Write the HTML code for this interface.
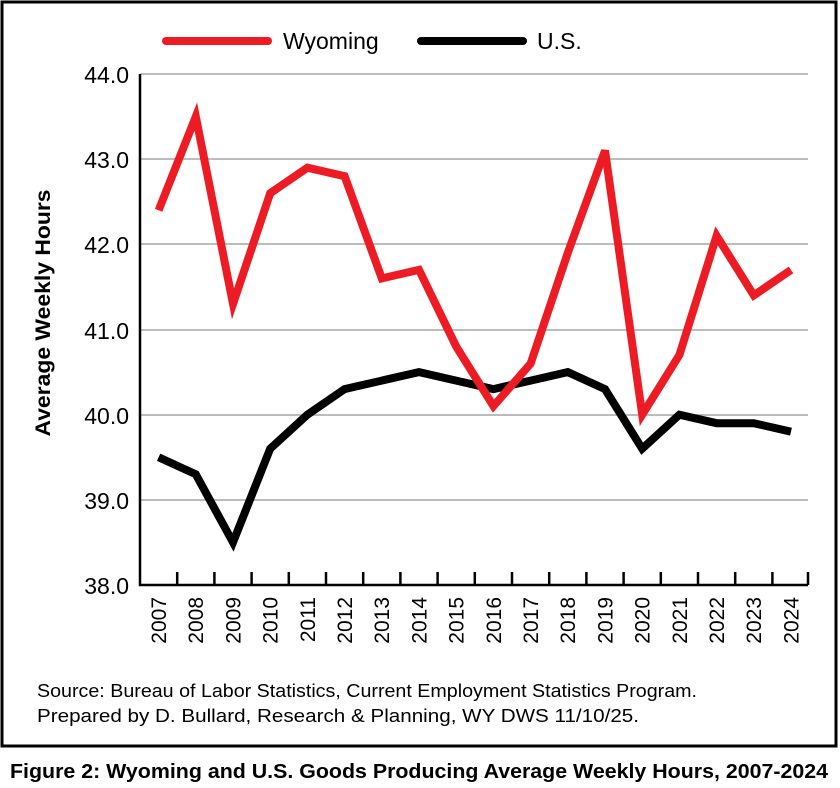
<!DOCTYPE html>
<html><head><meta charset="utf-8"><style>
html,body{margin:0;padding:0;background:#fff;}
svg{display:block;font-family:"Liberation Sans",sans-serif;}
</style></head><body>
<svg width="840" height="788" viewBox="0 0 840 788" xmlns="http://www.w3.org/2000/svg">
<rect x="0" y="0" width="840" height="788" fill="#fff"/>
<rect x="2" y="2" width="834" height="744" fill="none" stroke="#000" stroke-width="3"/>
<g stroke="#a6a6a6" stroke-width="1.5">
<line x1="140" y1="74" x2="808" y2="74"/>
<line x1="140" y1="159" x2="808" y2="159"/>
<line x1="140" y1="244" x2="808" y2="244"/>
<line x1="140" y1="330" x2="808" y2="330"/>
<line x1="140" y1="415" x2="808" y2="415"/>
<line x1="140" y1="500" x2="808" y2="500"/>
</g>
<line x1="140" y1="74" x2="140" y2="586" stroke="#000" stroke-width="2.5"/>
<line x1="139" y1="585" x2="808" y2="585" stroke="#000" stroke-width="2.5"/>
<g stroke="#000" stroke-width="2.5">
<line x1="177.2" y1="572" x2="177.2" y2="585"/><line x1="214.4" y1="572" x2="214.4" y2="585"/>
<line x1="251.6" y1="572" x2="251.6" y2="585"/><line x1="288.8" y1="572" x2="288.8" y2="585"/>
<line x1="326" y1="572" x2="326" y2="585"/><line x1="363.2" y1="572" x2="363.2" y2="585"/>
<line x1="400.4" y1="572" x2="400.4" y2="585"/><line x1="437.6" y1="572" x2="437.6" y2="585"/>
<line x1="474.8" y1="572" x2="474.8" y2="585"/><line x1="512" y1="572" x2="512" y2="585"/>
<line x1="549.2" y1="572" x2="549.2" y2="585"/><line x1="586.4" y1="572" x2="586.4" y2="585"/>
<line x1="623.6" y1="572" x2="623.6" y2="585"/><line x1="660.8" y1="572" x2="660.8" y2="585"/>
<line x1="698" y1="572" x2="698" y2="585"/><line x1="735.2" y1="572" x2="735.2" y2="585"/>
<line x1="772.4" y1="572" x2="772.4" y2="585"/><line x1="808" y1="572" x2="808" y2="585"/>
</g>
<g font-size="23" text-anchor="end" fill="#000">
<text x="129" y="83">44.0</text><text x="129" y="168">43.0</text><text x="129" y="253">42.0</text>
<text x="129" y="339">41.0</text><text x="129" y="424">40.0</text><text x="129" y="509">39.0</text>
<text x="129" y="594">38.0</text>
</g>
<g font-size="21" text-anchor="end" fill="#000">
<text transform="translate(166,597) rotate(-90)">2007</text>
<text transform="translate(203.2,597) rotate(-90)">2008</text>
<text transform="translate(240.4,597) rotate(-90)">2009</text>
<text transform="translate(277.6,597) rotate(-90)">2010</text>
<text transform="translate(314.8,597) rotate(-90)">2011</text>
<text transform="translate(352,597) rotate(-90)">2012</text>
<text transform="translate(389.2,597) rotate(-90)">2013</text>
<text transform="translate(426.4,597) rotate(-90)">2014</text>
<text transform="translate(463.6,597) rotate(-90)">2015</text>
<text transform="translate(500.8,597) rotate(-90)">2016</text>
<text transform="translate(538,597) rotate(-90)">2017</text>
<text transform="translate(575.2,597) rotate(-90)">2018</text>
<text transform="translate(612.4,597) rotate(-90)">2019</text>
<text transform="translate(649.6,597) rotate(-90)">2020</text>
<text transform="translate(686.8,597) rotate(-90)">2021</text>
<text transform="translate(724,597) rotate(-90)">2022</text>
<text transform="translate(761.2,597) rotate(-90)">2023</text>
<text transform="translate(798.4,597) rotate(-90)">2024</text>
</g>
<text transform="translate(50,313) rotate(-90)" font-size="21" font-weight="bold" text-anchor="middle" textLength="247" lengthAdjust="spacingAndGlyphs">Average Weekly Hours</text>
<polyline fill="none" stroke="#000" stroke-width="8" stroke-linejoin="miter" stroke-miterlimit="4" points="158.6,457.2 195.8,474.3 233,542.4 270.2,448.7 307.4,414.7 344.6,389.1 381.8,380.6 419,372.1 456.2,380.6 493.4,389.1 530.6,380.6 567.8,372.1 605,389.1 642.2,448.7 679.4,414.7 716.6,423.2 753.8,423.2 791,431.7"/>
<polyline fill="none" stroke="#ed1c24" stroke-width="8" stroke-linejoin="miter" stroke-miterlimit="4" points="158.6,210.3 195.8,116.6 233,303.9 270.2,193.2 307.4,167.7 344.6,176.2 381.8,278.4 419,269.9 456.2,346.5 493.4,406.1 530.6,363.6 567.8,252.8 605,150.6 642.2,414.7 679.4,355 716.6,235.8 753.8,295.4 791,269.9"/>
<line x1="166" y1="41" x2="268" y2="41" stroke="#ed1c24" stroke-width="8" stroke-linecap="round"/>
<text x="283" y="49" font-size="23">Wyoming</text>
<line x1="421" y1="41" x2="523" y2="41" stroke="#000" stroke-width="8" stroke-linecap="round"/>
<text x="537" y="49" font-size="23">U.S.</text>
<text x="37" y="697" font-size="18" textLength="660" lengthAdjust="spacingAndGlyphs">Source: Bureau of Labor Statistics, Current Employment Statistics Program.</text>
<text x="37" y="722" font-size="18" textLength="602" lengthAdjust="spacingAndGlyphs">Prepared by D. Bullard, Research &amp; Planning, WY DWS 11/10/25.</text>
<text x="10" y="778" font-size="20" font-weight="bold" textLength="818" lengthAdjust="spacingAndGlyphs">Figure 2: Wyoming and U.S. Goods Producing Average Weekly Hours, 2007-2024</text>
</svg>
</body></html>
